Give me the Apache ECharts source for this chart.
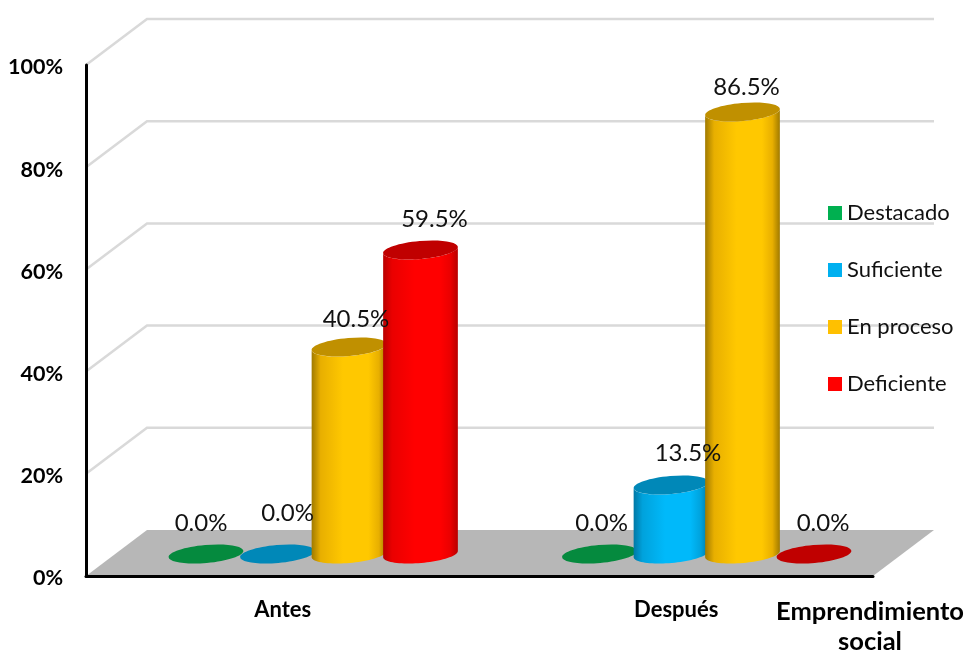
<!DOCTYPE html>
<html>
<head>
<meta charset="utf-8">
<style>
  html, body { margin: 0; padding: 0; background: #fff; }
  #chart { width: 966px; height: 650px; }
</style>
<script src="https://cdn.jsdelivr.net/npm/echarts@6/dist/echarts.min.js"></script>
</head>
<body>
<div id="chart"></div>
<script>
var categories = ["Antes", "Después"];
var seriesNames = ["Destacado", "Suficiente", "En proceso", "Deficiente"];
var destacado = [0, 0];
var suficiente = [0, 13.5];
var enProceso = [40.5, 86.5];
var deficiente = [59.5, 0];
var wallTicks = [20, 40, 60, 80, 100];

// colores: frente, medio, borde oscuro, tapa
var palette = [
  { main: "#00B050", mid: "#009a46", edge: "#00703a", cap: "#058a3e", legend: "#00B050" },
  { main: "#00B9FA", mid: "#00A2DC", edge: "#0078A5", cap: "#0088B8", legend: "#00B0F0" },
  { main: "#FFC800", mid: "#E8AF00", edge: "#A07A00", cap: "#C09000", legend: "#FFC000" },
  { main: "#FF0000", mid: "#EA0000", edge: "#B80000", cap: "#C00000", legend: "#FF0000" }
];

// profundidad del piso 3D y tamano de los cilindros
var depthX = 61;
var depthY = -46;
var slot = 71.5;
var rx = 37.5;
var ry = 9;
var tilt = 5 * Math.PI / 180;

// ajuste a mano de cada etiqueta [serie][categoria] -> [dx, dy]
var labelNudge = [
  [[-5, -31], [2, -31]],
  [[10, -41], [17, -32]],
  [[7, -28], [4, -25]],
  [[14, -31], [9, -31]]
];

function cylinderCenter(api, serie, cat, value) {
  var p = api.coord([cat, value]);
  var base = api.coord([cat, 0]);
  return {
    x: base[0] + depthX / 2 + (serie - 1.5) * slot,
    y: p[1] + depthY / 2 + 1
  };
}

function ellipsePoint(c, t) {
  var ex = rx * Math.cos(t);
  var ey = ry * Math.sin(t);
  return [
    c.x + ex * Math.cos(tilt) + ey * Math.sin(tilt),
    c.y - ex * Math.sin(tilt) + ey * Math.cos(tilt)
  ];
}

function renderCylinder(serie) {
  return function (params, api) {
    var cat = api.value(0);
    var value = api.value(1);
    var top = cylinderCenter(api, serie, cat, value);
    var base = cylinderCenter(api, serie, cat, 0);
    var colors = palette[serie];
    var children = [];
    if (value > 0) {
      var pts = [];
      var i;
      for (i = 0; i <= 40; i++) pts.push(ellipsePoint(base, Math.PI - (Math.PI * i) / 40));
      for (i = 0; i <= 40; i++) pts.push(ellipsePoint(top, (Math.PI * i) / 40));
      children.push({
        type: "polygon",
        shape: { points: pts },
        style: {
          fill: new echarts.graphic.LinearGradient(0, 0, 1, 0, [
            { offset: 0, color: colors.edge },
            { offset: 0.12, color: colors.mid },
            { offset: 0.42, color: colors.main },
            { offset: 0.76, color: colors.main },
            { offset: 0.9, color: colors.mid },
            { offset: 1, color: colors.edge }
          ])
        }
      });
    }
    children.push({
      type: "ellipse",
      x: top.x,
      y: top.y,
      rotation: tilt,
      shape: { cx: 0, cy: 0, rx: rx, ry: ry },
      style: { fill: colors.cap }
    });
    return { type: "group", children: children };
  };
}

function renderWall(params, api) {
  var v = api.value(1);
  var left = params.coordSys.x;
  var right = left + params.coordSys.width;
  var y = api.coord([0, v])[1];
  return {
    type: "polyline",
    shape: { points: [[left, y], [left + depthX, y + depthY], [right + depthX, y + depthY]] },
    style: { fill: "none", stroke: "#D9D9D9", lineWidth: 2.5 }
  };
}

function renderFloor(params, api) {
  var left = params.coordSys.x;
  var right = left + params.coordSys.width;
  var y = api.coord([0, 0])[1];
  return {
    type: "polygon",
    shape: { points: [[left, y], [left + depthX, y + depthY], [right + depthX, y + depthY], [right, y]] },
    style: { fill: "#B7B7B7" }
  };
}

function renderLabel(params, api) {
  var cat = api.value(0);
  var value = api.value(1);
  var serie = api.value(2);
  var c = cylinderCenter(api, serie, cat, value);
  var nudge = labelNudge[serie][cat];
  return {
    type: "text",
    x: c.x + nudge[0],
    y: c.y + nudge[1],
    style: {
      text: value.toFixed(1) + "%",
      fontFamily: "Lato",
      fontSize: 24,
      fill: "#111",
      align: "center",
      verticalAlign: "middle"
    }
  };
}

function pairs(values) {
  return values.map(function (v, i) { return [i, v]; });
}

var allValues = [destacado, suficiente, enProceso, deficiente];
var labelData = [];
allValues.forEach(function (values, s) {
  values.forEach(function (v, c) { labelData.push([c, v, s]); });
});

var series = [
  { type: "custom", name: "piso", z: 1, silent: true, data: [[0, 0]], renderItem: renderFloor, encode: { x: 0, y: 1 } },
  { type: "custom", name: "pared", z: 1, silent: true, data: wallTicks.map(function (v) { return [0, v]; }), renderItem: renderWall, encode: { x: 0, y: 1 } }
];
allValues.forEach(function (values, s) {
  series.push({
    type: "custom",
    name: seriesNames[s],
    z: 3,
    itemStyle: { color: palette[s].legend },
    data: pairs(values),
    renderItem: renderCylinder(s),
    encode: { x: 0, y: 1 }
  });
});
series.push({ type: "custom", name: "etiquetas", z: 6, silent: true, data: labelData, renderItem: renderLabel, encode: { x: 0, y: 1 } });

var myChart = echarts.init(document.getElementById("chart"));
myChart.setOption({
  animation: false,
  backgroundColor: "#fff",
  grid: { left: 86, right: 93, top: 65, bottom: 74, outerBoundsMode: "none" },
  legend: {
    data: seriesNames,
    orient: "vertical",
    left: 823,
    top: 196,
    icon: "rect",
    itemWidth: 14,
    itemHeight: 14,
    itemGap: 33,
    selectedMode: false,
    textStyle: { fontFamily: "Lato", fontSize: 22, color: "#111", lineHeight: 24 }
  },
  xAxis: {
    type: "category",
    data: categories,
    axisLine: { lineStyle: { color: "#000", width: 3 } },
    axisTick: { show: false },
    axisLabel: { fontFamily: "Lato", fontWeight: "bold", fontSize: 22, color: "#000", margin: 23 },
    z: 4,
    name: "Emprendimiento\nsocial",
    nameLocation: "end",
    nameGap: -3,
    nameTextStyle: {
      fontFamily: "Lato",
      fontWeight: "bold",
      fontSize: 25.5,
      lineHeight: 30,
      color: "#000",
      align: "center",
      verticalAlign: "top",
      padding: [21, 0, 0, 0]
    }
  },
  yAxis: {
    type: "value",
    min: 0,
    max: 100,
    interval: 20,
    axisLine: { show: true, lineStyle: { color: "#000", width: 3 } },
    axisTick: { show: false },
    splitLine: { show: false },
    axisLabel: { formatter: "{value}%", fontFamily: "Lato", fontWeight: "bold", fontSize: 21.5, color: "#000", margin: 23, verticalAlign: "top", lineHeight: 5 },
    z: 4
  },
  series: series
});
</script>
</body>
</html>
